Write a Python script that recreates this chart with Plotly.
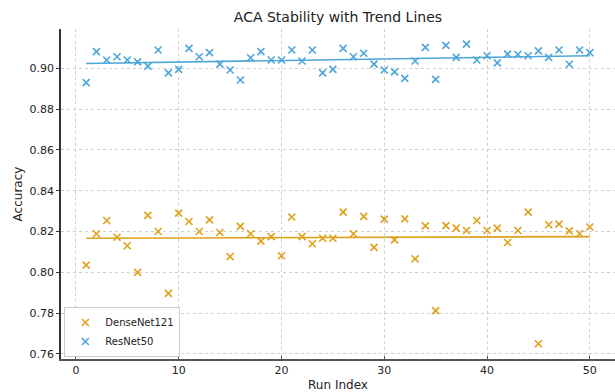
import numpy as np
import plotly.graph_objects as go

runs = list(range(1, 51))
densenet = [0.8035, 0.8189, 0.8254, 0.8172, 0.8130, 0.8000, 0.8279, 0.8200, 0.7897, 0.8290,
            0.8249, 0.8200, 0.8257, 0.8195, 0.8077, 0.8225, 0.8189, 0.8153, 0.8175, 0.8081,
            0.8271, 0.8175, 0.8140, 0.8167, 0.8167, 0.8295, 0.8189, 0.8274, 0.8122, 0.8261,
            0.8159, 0.8262, 0.8066, 0.8228, 0.7812, 0.8229, 0.8217, 0.8205, 0.8254, 0.8205,
            0.8217, 0.8146, 0.8205, 0.8295, 0.7650, 0.8233, 0.8236, 0.8203, 0.8189, 0.8222]
resnet = [0.8930, 0.9082, 0.9041, 0.9057, 0.9041, 0.9032, 0.9011, 0.9090, 0.8978, 0.8995,
          0.9098, 0.9057, 0.9077, 0.9021, 0.8992, 0.8943, 0.9052, 0.9082, 0.9041, 0.9041,
          0.9090, 0.9036, 0.9090, 0.8978, 0.8995, 0.9098, 0.9057, 0.9074, 0.9021, 0.8992,
          0.8983, 0.8951, 0.9036, 0.9103, 0.8946, 0.9113, 0.9054, 0.9119, 0.9041, 0.9062,
          0.9027, 0.9070, 0.9068, 0.9062, 0.9086, 0.9054, 0.9090, 0.9020, 0.9090, 0.9077]

c_dense = "#DFA11A"
c_res = "#4DA6D8"

x = np.array(runs)
fig = go.Figure()
for name, vals, col in [("DenseNet121", densenet, c_dense), ("ResNet50", resnet, c_res)]:
    fig.add_trace(go.Scatter(x=runs, y=vals, mode="markers", name=name,
                             marker=dict(symbol="x-thin", size=7, color=col,
                                         line=dict(width=1.6, color=col))))
for vals, col in [(densenet, c_dense), (resnet, c_res)]:
    k, b = np.polyfit(x, np.array(vals), 1)
    fig.add_trace(go.Scatter(x=runs, y=k * x + b, mode="lines", showlegend=False,
                             line=dict(color=col, width=1.6), hoverinfo="skip"))

font = "DejaVu Sans, sans-serif"
fig.update_layout(
    width=615, height=392,
    margin=dict(l=61, r=0, t=29, b=33),
    paper_bgcolor="white", plot_bgcolor="white",
    font=dict(family=font, size=11, color="#222"),
    title=dict(text="ACA Stability with Trend Lines", x=0.5495, xanchor="center",
               y=0.957, yanchor="middle", font=dict(size=14, color="#222")),
    showlegend=True,
    legend=dict(x=0.006, y=0.006, xanchor="left", yanchor="bottom",
                bgcolor="rgba(255,255,255,0.85)", bordercolor="#cccccc", borderwidth=1,
                font=dict(size=10), tracegroupgap=0, itemwidth=30),
    xaxis=dict(range=[-1.45, 52.45], tickvals=[0, 10, 20, 30, 40, 50],
               showgrid=True, gridcolor="#cfcfcf", griddash="dot", gridwidth=1,
               showline=True, linecolor="#555", linewidth=2,
               ticks="inside", ticklen=3, tickcolor="#555",
               zeroline=False,
               title=dict(text="Run Index", standoff=4, font=dict(size=12))),
    yaxis=dict(range=[0.7575, 0.9193], tickvals=[0.76, 0.78, 0.80, 0.82, 0.84, 0.86, 0.88, 0.90],
               tickformat=".2f",
               showgrid=True, gridcolor="#cfcfcf", griddash="dot", gridwidth=1,
               showline=True, linecolor="#333", linewidth=1.5,
               ticks="outside", ticklen=3, tickcolor="#333",
               zeroline=False,
               title=dict(text="Accuracy", standoff=4, font=dict(size=12))),
)

fig.write_html("out.html", config={"displayModeBar": False},
               post_script="document.body.style.margin='0';")
